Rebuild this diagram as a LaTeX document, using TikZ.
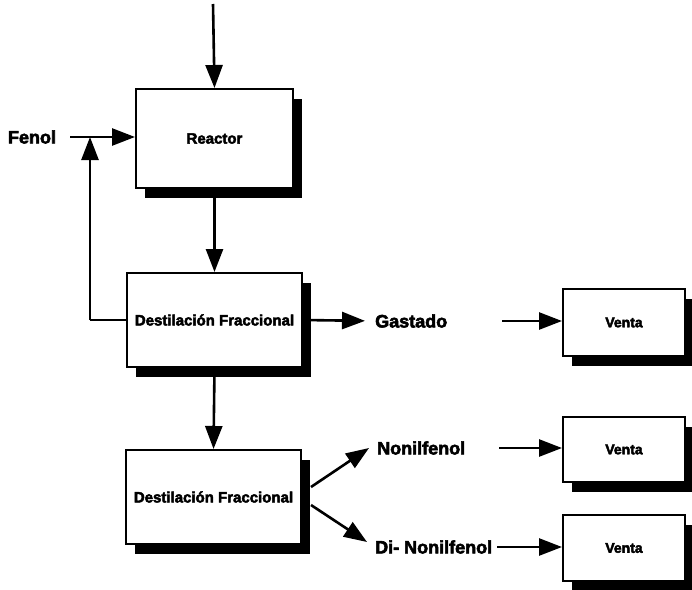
\documentclass[tikz,border=0pt]{standalone}
\usepackage{fontspec}
\setmainfont{Liberation Sans}
\newfontfamily\heavyfont{Liberation Sans Bold}[FakeBold=3]
\usetikzlibrary{arrows.meta,shadows}
\begin{document}
\begin{tikzpicture}[x=1pt,y=-1pt,
  box/.style={draw=black, line width=2pt, fill=white, inner sep=0pt,
    drop shadow={shadow xshift=9pt, shadow yshift=-10pt, opacity=1, fill=black}},
  boxtext/.style={font=\heavyfont\fontsize{15}{17}\selectfont},
  ventatext/.style={font=\heavyfont\fontsize{14}{16}\selectfont},
  label/.style={font=\heavyfont\fontsize{18}{20}\selectfont, inner sep=0pt},
  arr/.style={line width=2.6pt, -{Triangle[length=23pt,width=17pt]}},
  line/.style={line width=2.6pt}]
\useasboundingbox (0,0) rectangle (692,589);

% process units
\node[box, boxtext, minimum width=157pt, minimum height=99pt] (reactor) at (214.5,138.5) {Reactor};
\node[box, boxtext, minimum width=175pt, minimum height=94pt] (dest1) at (214.5,320) {Destilación Fraccional};
\node[box, boxtext, minimum width=175pt, minimum height=94pt] (dest2) at (213.5,497) {Destilación Fraccional};
\node[box, ventatext, minimum width=122pt, minimum height=67pt] (venta1) at (624,322.5) {Venta};
\node[box, ventatext, minimum width=122pt, minimum height=65pt] (venta2) at (624,449.5) {Venta};
\node[box, ventatext, minimum width=122pt, minimum height=66pt] (venta3) at (624,548) {Venta};

% stream labels
\node[label] (fenol) at (32,137) {Fenol};
\node[label, anchor=west] (gastado) at (375,321) {Gastado};
\node[label, anchor=west] (nonil) at (377,448) {Nonilfenol};
\node[label, anchor=west] (dinonil) at (375,547) {Di- Nonilfenol};

\coordinate (feed) at (213,4);
\coordinate (junction) at (90,137);
\coordinate (recycle) at (90,320);
\coordinate (split) at (311,496);

% connectors
\draw[arr] (feed) -- (reactor.north);
\draw[arr, shorten <=14pt] (fenol.east) -- (reactor.west |- fenol.east);
\draw[line] (dest1.west) -- (recycle);
\draw[arr] (recycle) -- (junction);
\draw[arr] (reactor.south) -- (dest1.north);
\draw[arr, shorten >=10pt] (dest1.east) -- (gastado.west);
\draw[arr] ([xshift=55pt]gastado.east) -- (venta1.west |- gastado.east);
\draw[arr] (dest1.south) -- (dest2.north);
\draw[arr] ([yshift=9pt]split) -- ([xshift=-8pt]nonil.west);
\draw[arr] ([yshift=-9pt]split) -- ([xshift=-8pt,yshift=5pt]dinonil.west);
\draw[arr] ([xshift=34pt]nonil.east) -- (venta2.west |- nonil.east);
\draw[arr] ([xshift=5pt]dinonil.east) -- (venta3.west |- dinonil.east);
\end{tikzpicture}
\end{document}
